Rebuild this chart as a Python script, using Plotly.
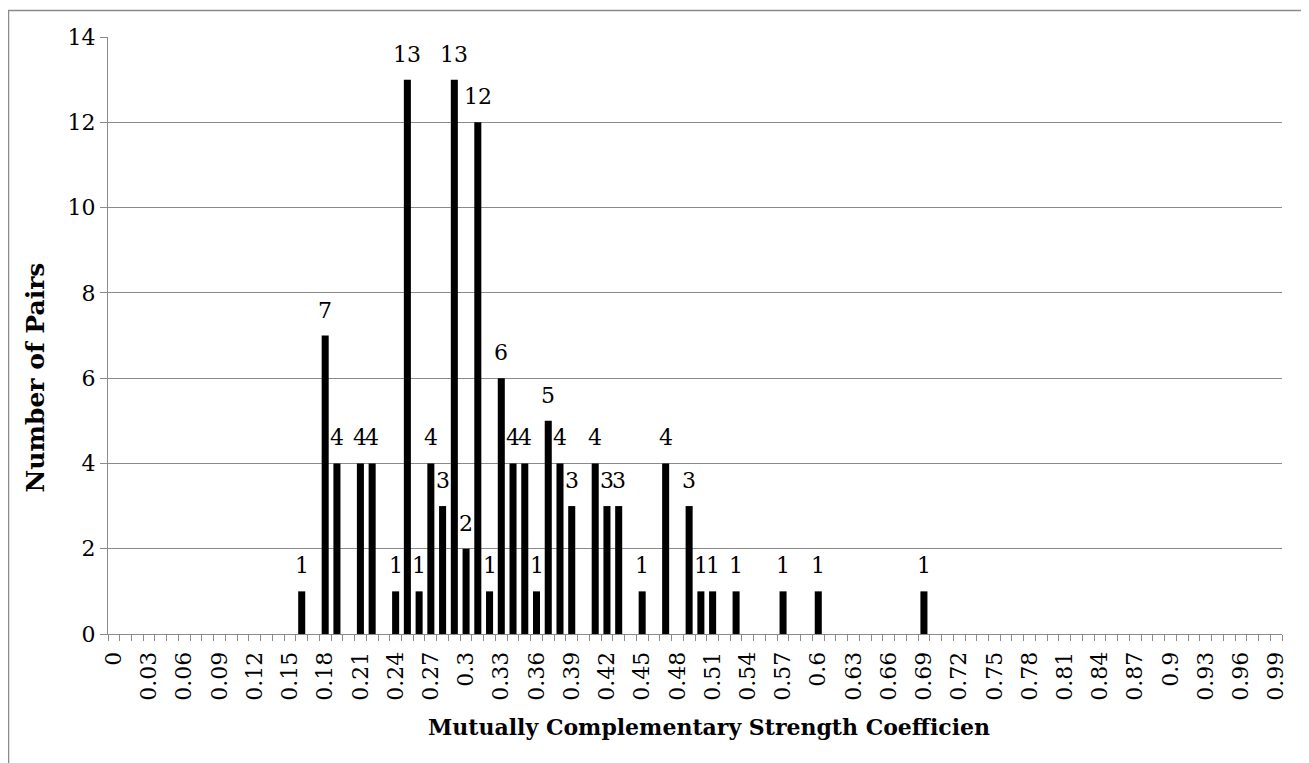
import plotly.graph_objects as go

# categories 0, 0.01, ... 0.99
categories = [f"{i / 100:g}" for i in range(100)]
label_step = 3

# non-zero counts by category index
bar_index = [16, 18, 19, 21, 22, 24, 25, 26, 27, 28, 29, 30, 31, 32, 33, 34, 35,
             36, 37, 38, 39, 41, 42, 43, 45, 47, 49, 50, 51, 53, 57, 60, 69]
bar_count = [1, 7, 4, 4, 4, 1, 13, 1, 4, 3, 13, 2, 12, 1, 6, 4, 4,
             1, 5, 4, 3, 4, 3, 3, 1, 4, 3, 1, 1, 1, 1, 1, 1]

y_ticks = [0, 2, 4, 6, 8, 10, 12, 14]

counts = [0] * len(categories)
for i, c in zip(bar_index, bar_count):
    counts[i] = c
tick_text = [c if i % label_step == 0 else "" for i, c in enumerate(categories)]

FONT = "DejaVu Serif"
GRID = "#8a8a8a"

fig = go.Figure(go.Bar(
    x=categories, y=counts,
    marker=dict(color="black", line=dict(width=0)),
))

# value labels sit a little above each non-zero bar
# (x is the category position on the axis, not the label string)
annotations = [
    dict(x=i, y=c, text=str(c), xref="x", yref="y",
         showarrow=False, yanchor="bottom", yshift=11,
         font=dict(family=FONT, size=22, color="black"))
    for i, c in zip(bar_index, bar_count)
]

W, H = 1300, 772
ml, mr, mt, mb = 100, 26, 29, 146
pw, ph = W - ml - mr, H - mt - mb

# axis titles (Excel centres them on the chart area, not the plot area)
annotations += [
    dict(text="<b>Mutually Complementary Strength Coefficien</b>",
         xref="paper", yref="paper", x=0.512, y=-0.156, showarrow=False,
         xanchor="center", yanchor="middle", font=dict(family=FONT, size=22)),
    dict(text="<b>Number of Pairs</b>", textangle=-90,
         xref="paper", yref="paper", x=-0.062, y=0.43, showarrow=False,
         xanchor="center", yanchor="middle", font=dict(family=FONT, size=25)),
]

fig.update_layout(
    width=W, height=H,
    margin=dict(l=ml, r=mr, t=mt, b=mb),
    paper_bgcolor="white", plot_bgcolor="white",
    bargap=0.4, showlegend=False,
    font=dict(family=FONT, size=22, color="black"),
    xaxis=dict(
        type="category", tickmode="array", tickvals=categories, ticktext=tick_text,
        tickangle=-90, tickson="boundaries", ticks="outside", ticklen=6,
        ticklabelstandoff=8,
        tickcolor=GRID, showline=True, linecolor=GRID, linewidth=1,
        showgrid=False, tickfont=dict(family=FONT, size=22),
    ),
    yaxis=dict(
        range=[0, 14], tickvals=y_ticks, ticks="outside", ticklen=7,
        tickcolor=GRID, showline=True, linecolor=GRID, linewidth=1,
        showgrid=True, gridcolor=GRID, gridwidth=1, zeroline=False,
        tickfont=dict(family=FONT, size=22),
    ),
    annotations=annotations,
    shapes=[dict(
        type="rect", xref="paper", yref="paper",
        x0=-(ml - 0.5) / pw, x1=1 + (mr - 1.5) / pw,
        y0=-(mb - 1.5) / ph, y1=1 + (mt - 2.5) / ph,
        line=dict(color=GRID, width=1.5), fillcolor="rgba(0,0,0,0)", layer="below",
    )],
)

fig.write_html("out.html")
